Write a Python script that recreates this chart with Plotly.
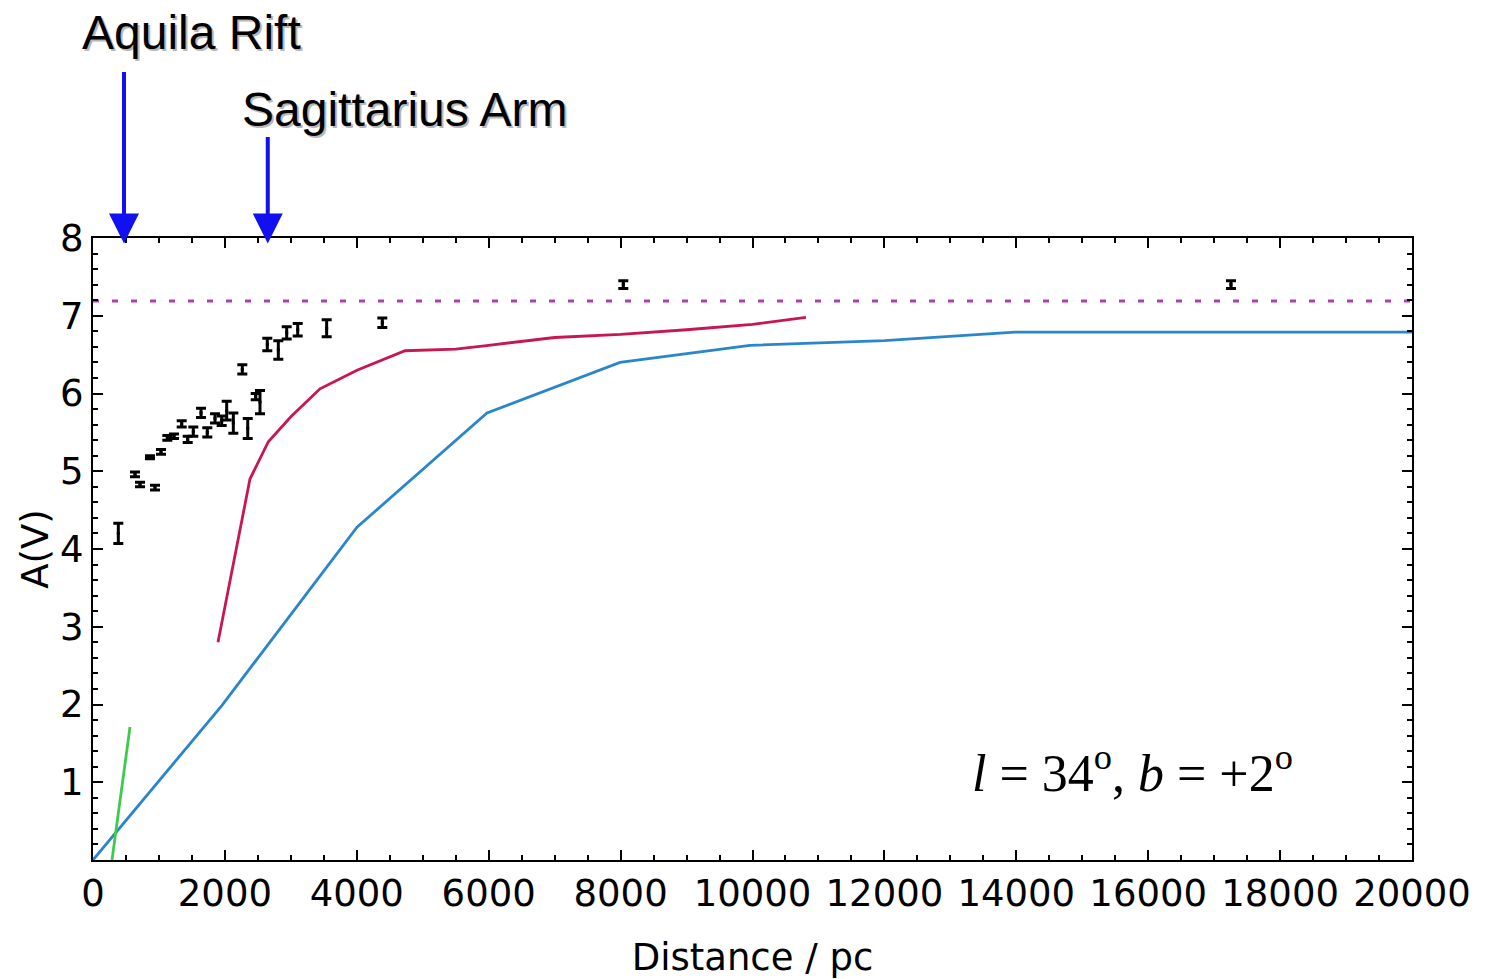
import plotly.graph_objects as go

# ---- data ----
pts_x = [384, 637, 713, 864, 940, 1031, 1127, 1228, 1345, 1436, 1521, 1638, 1733, 1850, 1951,
         2027, 2128, 2346, 2264, 2467, 2532, 2643, 2810, 2937, 3104, 3543, 4387, 8041, 17255]
pts_y = [4.20, 4.96, 4.83, 5.18, 4.79, 5.25, 5.43, 5.45, 5.61, 5.41, 5.51, 5.75, 5.50, 5.68, 5.65,
         5.78, 5.62, 5.55, 6.31, 5.96, 5.89, 6.63, 6.56, 6.78, 6.82, 6.84, 6.91, 7.40, 7.40]
pts_err = [0.13, 0.03, 0.03, 0.02, 0.03, 0.03, 0.03, 0.03, 0.04, 0.04, 0.06, 0.06, 0.06, 0.06, 0.06,
           0.12, 0.13, 0.13, 0.06, 0.04, 0.15, 0.08, 0.12, 0.08, 0.08, 0.11, 0.06, 0.05, 0.05]

red_x = [1895, 2380, 2658, 3000, 3442, 4003, 4731, 5500, 6000, 7000, 8000, 9000, 10000, 10811]
red_y = [2.80, 4.90, 5.38, 5.70, 6.06, 6.30, 6.55, 6.57, 6.62, 6.72, 6.76, 6.82, 6.89, 6.98]

blue_x = [0, 1956, 4003, 5974, 7991, 9962, 12000, 13980, 20000]
blue_y = [0.0, 1.99, 4.28, 5.75, 6.40, 6.62, 6.68, 6.79, 6.79]

green_x = [288, 561]
green_y = [0.0, 1.71]

dash_level = 7.19
arrow_x = [470, 2650]
arrow_len = [173, 108]
arrow_labels = ["Aquila Rift", "Sagittarius Arm"]

x_ticks = list(range(0, 20001, 2000))
y_ticks = [1, 2, 3, 4, 5, 6, 7, 8]

fig = go.Figure()

fig.add_trace(go.Scatter(x=[0, 20000], y=[dash_level, dash_level], mode="lines",
                         line=dict(color="#b23cb8", width=3, dash="6px,13px"),
                         hoverinfo="skip", showlegend=False))
fig.add_trace(go.Scatter(x=blue_x, y=blue_y, mode="lines",
                         line=dict(color="#2a86cc", width=2.8), showlegend=False))
fig.add_trace(go.Scatter(x=red_x, y=red_y, mode="lines",
                         line=dict(color="#c8174f", width=2.8), showlegend=False))
fig.add_trace(go.Scatter(x=green_x, y=green_y, mode="lines",
                         line=dict(color="#3ccc4a", width=2.8), showlegend=False))
fig.add_trace(go.Scatter(x=pts_x, y=pts_y, mode="markers",
                         marker=dict(color="black", size=3, symbol="square"),
                         error_y=dict(type="data", array=pts_err, visible=True,
                                      color="black", thickness=3, width=5),
                         showlegend=False))

axis_font = dict(family="DejaVu Sans, sans-serif", size=37, color="black")

fig.update_xaxes(range=[0, 20000], tickvals=x_ticks, ticktext=[str(v) for v in x_ticks],
                 ticks="inside", ticklen=10, tickwidth=2, tickcolor="black",
                 minor=dict(ticks="inside", dtick=500, ticklen=5, tickwidth=2, tickcolor="black"),
                 showline=True, linecolor="black", linewidth=2, mirror="ticks",
                 showgrid=False, zeroline=False, tickfont=axis_font, automargin=False,
                 title=dict(text="Distance / pc", font=axis_font, standoff=32))
fig.update_yaxes(range=[0, 8], tickvals=y_ticks, ticktext=[str(v) for v in y_ticks],
                 ticks="inside", ticklen=10, tickwidth=2, tickcolor="black",
                 minor=dict(ticks="inside", dtick=0.2, ticklen=5, tickwidth=2, tickcolor="black"),
                 showline=True, linecolor="black", linewidth=2, mirror="ticks",
                 showgrid=False, zeroline=False, tickfont=axis_font, automargin=False,
                 title=dict(text="A(V)", font=axis_font, standoff=0))

# arrows
for ax_x, ln in zip(arrow_x, arrow_len):
    fig.add_annotation(x=ax_x, y=7.93, xref="x", yref="y", ax=0, ay=-ln,
                       showarrow=True, arrowhead=2, arrowsize=1.5, arrowwidth=4,
                       arrowcolor="#1010f0", text="")

label_font = dict(family="Liberation Sans, Arial, sans-serif", size=48, color="black")
shadow_font = dict(family="Liberation Sans, Arial, sans-serif", size=48, color="#b8b8b8")
label_pos = [(-0.0099, 1.331), (0.1114, 1.206)]
for txt, (px, py) in zip(arrow_labels, label_pos):
    fig.add_annotation(x=px, y=py, xref="paper", yref="paper", text=txt, showarrow=False,
                       xanchor="left", yanchor="middle", font=shadow_font, xshift=2, yshift=-2)
    fig.add_annotation(x=px, y=py, xref="paper", yref="paper", text=txt, showarrow=False,
                       xanchor="left", yanchor="middle", font=label_font)

fig.add_annotation(x=0.665, y=0.145, xref="paper", yref="paper",
                   text="<i>l</i> = 34<sup>o</sup>, <i>b</i> = +2<sup>o</sup>",
                   showarrow=False, xanchor="left", yanchor="middle",
                   font=dict(family="Liberation Serif, Times New Roman, serif", size=52, color="black"))

fig.update_layout(width=1491, height=979, margin=dict(l=93, r=79, t=238, b=119),
                  paper_bgcolor="white", plot_bgcolor="white")

fig.write_html("out.html")
